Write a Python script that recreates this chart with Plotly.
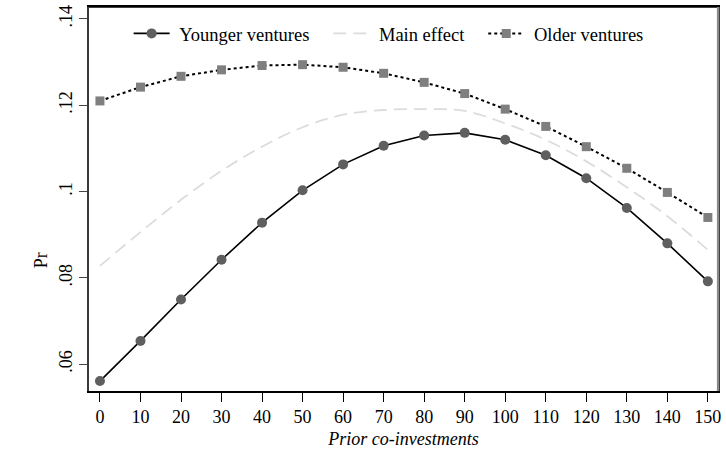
import plotly.graph_objects as go

prior_coinvestments = [0, 10, 20, 30, 40, 50, 60, 70, 80, 90, 100, 110, 120, 130, 140, 150]
younger_ventures = [0.0561, 0.0654, 0.0750, 0.0842, 0.0928, 0.1003, 0.1063, 0.1106,
                    0.1130, 0.1136, 0.1120, 0.1084, 0.1031, 0.0962, 0.0880, 0.0792]
main_effect = [0.0828, 0.0906, 0.0981, 0.1048, 0.1104, 0.1149, 0.1178, 0.1189,
               0.1191, 0.1187, 0.1158, 0.1120, 0.1070, 0.1010, 0.0943, 0.0865]
older_ventures = [0.1210, 0.1242, 0.1267, 0.1282, 0.1292, 0.1294, 0.1288, 0.1274,
                  0.1253, 0.1227, 0.1191, 0.1151, 0.1104, 0.1054, 0.0998, 0.0940]

x_ticks = list(range(0, 151, 10))
y_ticks = [0.06, 0.08, 0.10, 0.12, 0.14]
y_tick_labels = [".06", ".08", ".1", ".12", ".14"]

FONT = "Liberation Serif, Times New Roman, serif"
PAD = "\u00a0" * 3
LEAD = "\u00a0"

fig = go.Figure()
fig.add_trace(go.Scatter(
    x=prior_coinvestments, y=younger_ventures, name=LEAD + "Younger ventures" + PAD,
    mode="lines+markers",
    line=dict(color="black", width=1.6),
    marker=dict(symbol="circle", size=10, color="#5f5f5f"),
))
fig.add_trace(go.Scatter(
    x=prior_coinvestments, y=main_effect, name=LEAD + "Main effect" + PAD,
    mode="lines",
    line=dict(color="#dcdcdc", width=1.8, dash="13px,7px", shape="spline"),
))
fig.add_trace(go.Scatter(
    x=prior_coinvestments, y=older_ventures, name=LEAD + "Older ventures",
    mode="lines+markers",
    line=dict(color="black", width=2, dash="dot"),
    marker=dict(symbol="square", size=9, color="#7f7f7f"),
))

fig.update_layout(
    width=726, height=451,
    margin=dict(l=89, r=5, t=6, b=58),
    paper_bgcolor="white", plot_bgcolor="white",
    font=dict(family=FONT, size=18, color="black"),
    showlegend=True,
    legend=dict(orientation="h", x=0.063, y=0.93, xanchor="left", yanchor="middle",
                bgcolor="rgba(0,0,0,0)", font=dict(size=18.5, family=FONT),
                itemwidth=36, tracegroupgap=0),
    xaxis=dict(
        range=[-2.7, 152.5], tickvals=x_ticks, ticks="outside", ticklen=9,
        tickcolor="black", showgrid=False, zeroline=False,
        showline=True, mirror=True, linecolor="black", linewidth=1.5,
        tickfont=dict(size=18, family=FONT),
        title=dict(text="<i>Prior co-investments</i>", font=dict(size=18, family=FONT), standoff=6),
    ),
    yaxis=dict(
        range=[0.0538, 0.14276], tickvals=y_ticks, ticktext=y_tick_labels,
        ticks="outside", ticklen=8, tickcolor="#444", tickangle=-90,
        showgrid=False, zeroline=False,
        showline=True, mirror=True, linecolor="#3a3a3a", linewidth=2,
        tickfont=dict(size=18, family=FONT),
    ),
    shapes=[
        dict(type="line", xref="paper", yref="paper", x0=0, x1=1, y0=1, y1=1,
             line=dict(color="black", width=1.5)),
        dict(type="line", xref="paper", yref="paper", x0=1, x1=1, y0=0, y1=1,
             line=dict(color="#8a8a8a", width=2.2)),
    ],
    annotations=[
        dict(text="Pr", xref="paper", yref="paper", x=-0.075, y=0.34,
             xanchor="center", yanchor="middle", textangle=-90, showarrow=False,
             font=dict(size=18, family=FONT)),
    ],
)

fig.write_html("out.html", config={"displayModeBar": False},
               post_script="document.body.style.margin='0';document.body.style.padding='0';")
